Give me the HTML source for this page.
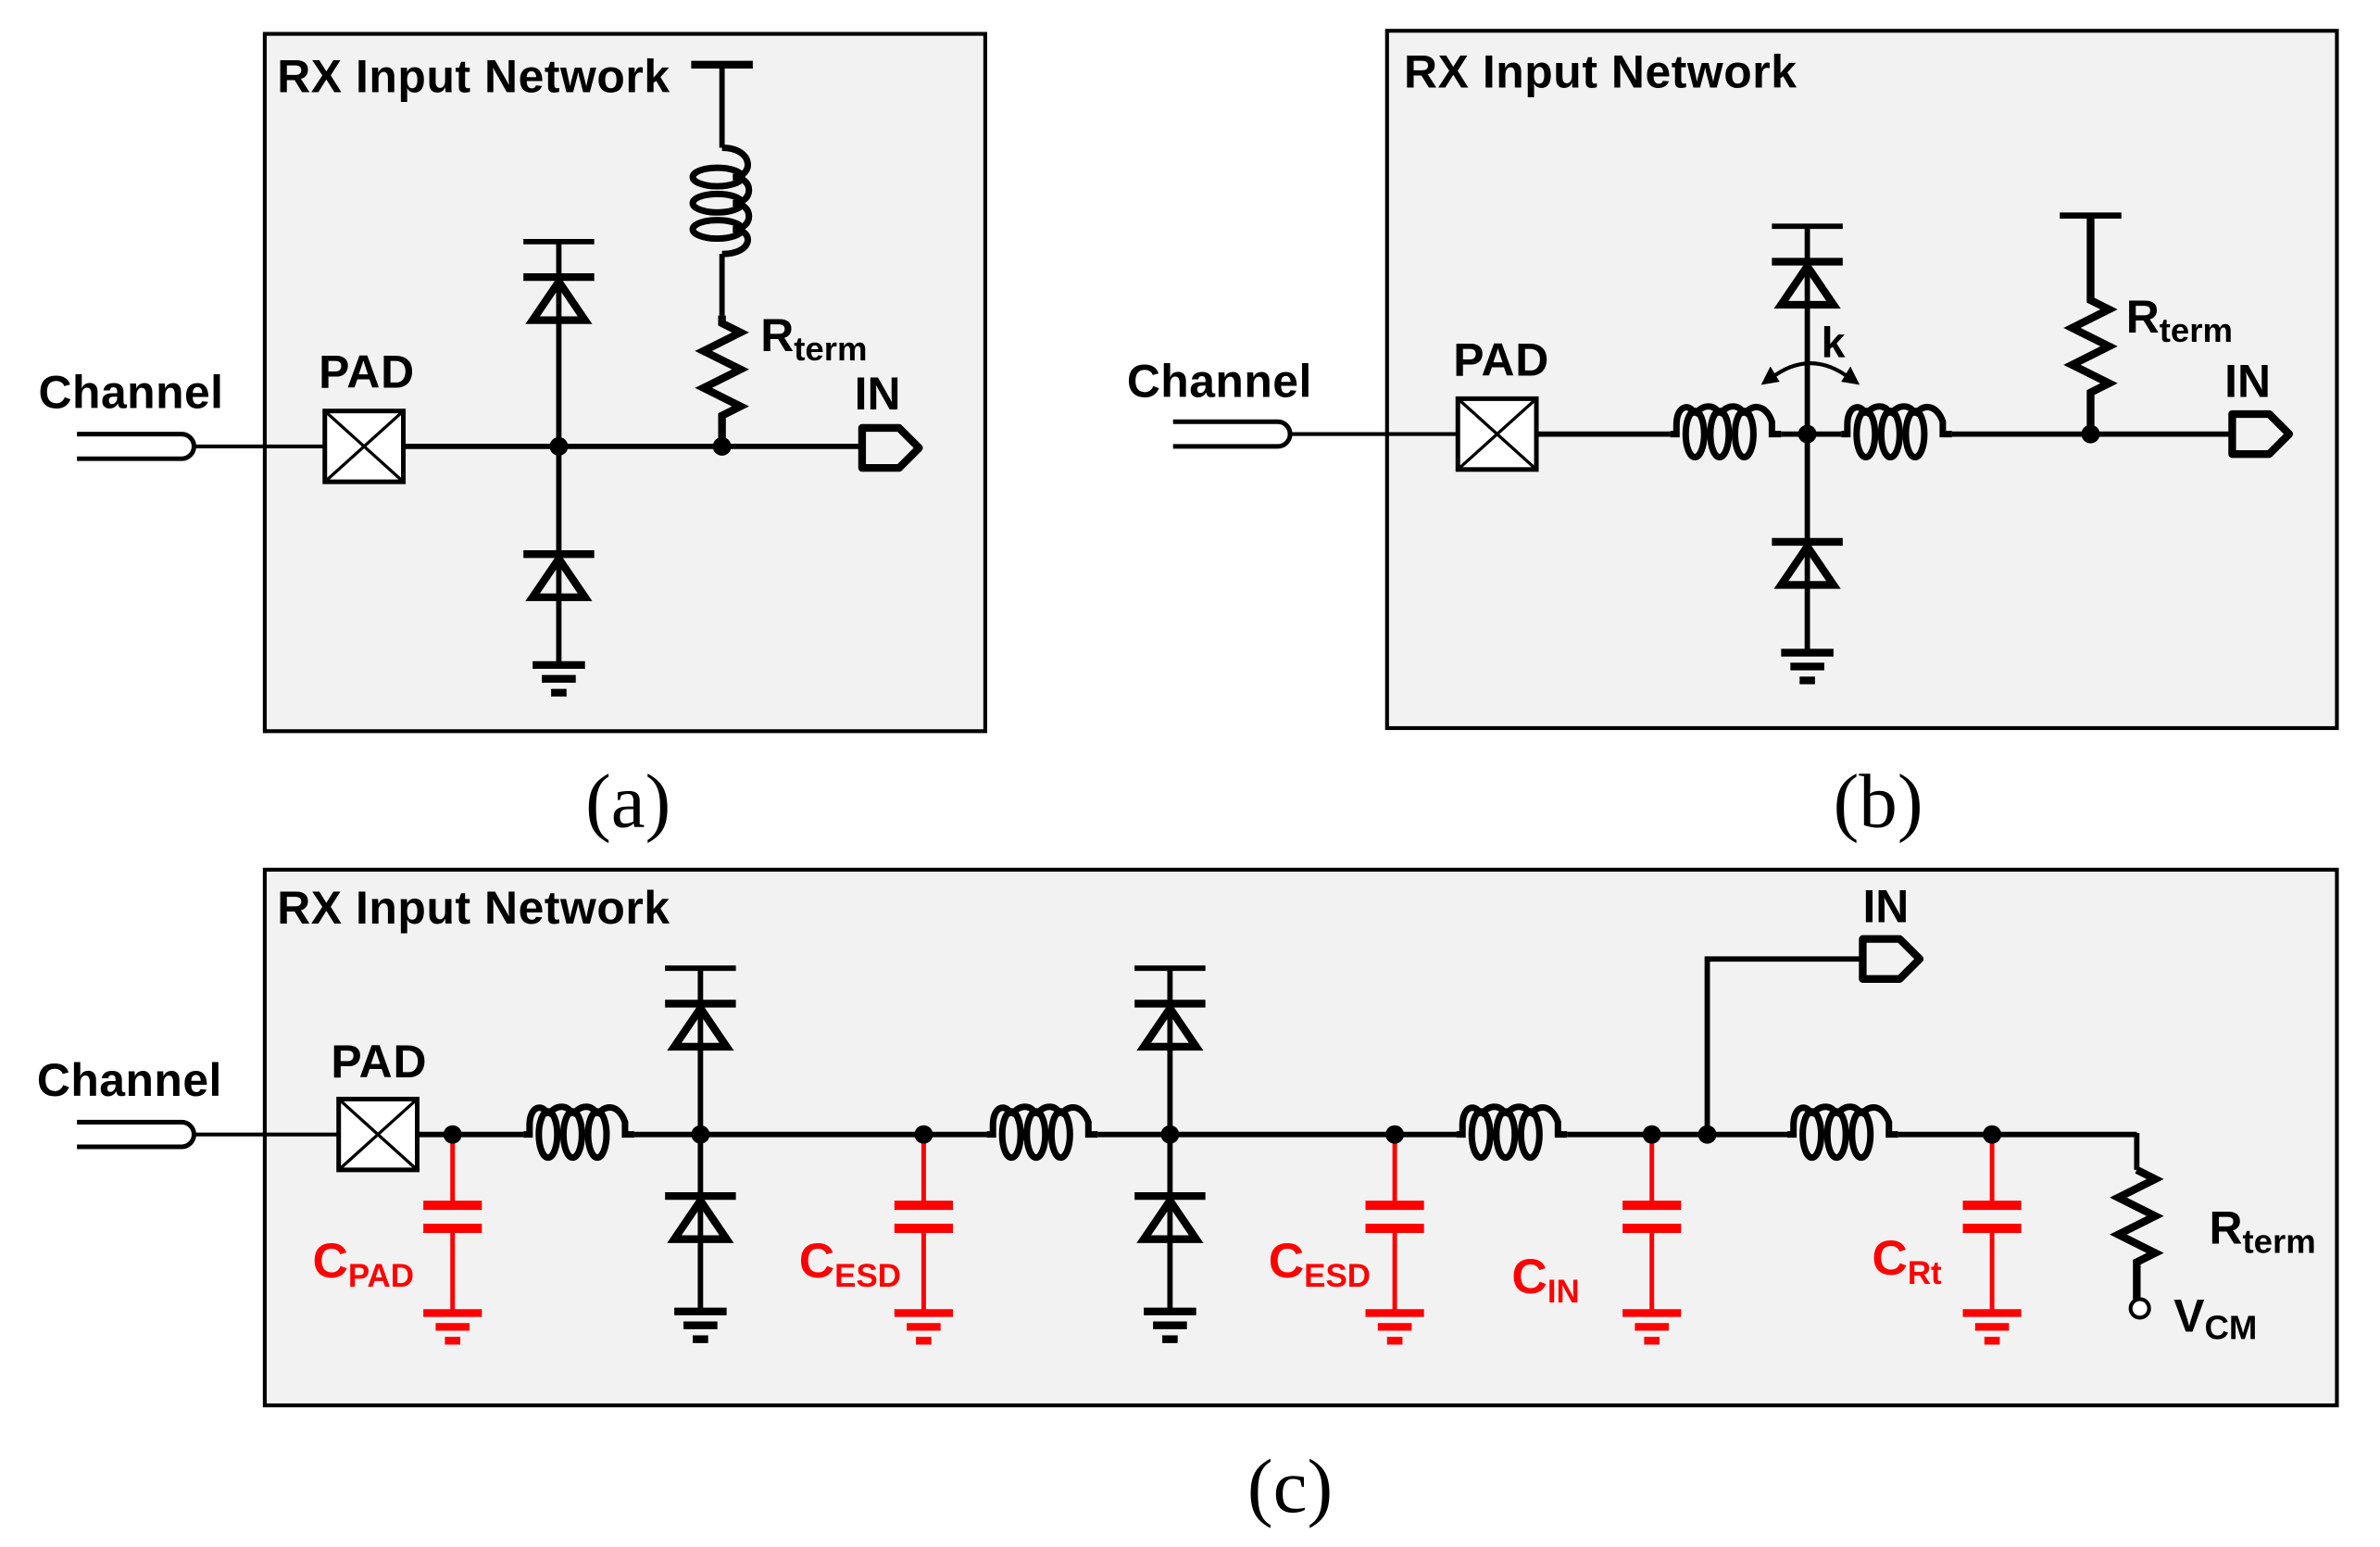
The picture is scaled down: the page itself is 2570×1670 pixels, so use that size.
<!DOCTYPE html>
<html><head><meta charset="utf-8"><style>
html,body{margin:0;padding:0;background:#fff;}
svg{display:block;}
text{font-family:"Liberation Sans Narrow","Liberation Sans",sans-serif;font-weight:bold;}
.cap{font-family:"Liberation Serif",serif;font-weight:normal;font-size:50px;}
</style></head><body>
<svg width="2570" height="1670" viewBox="0 0 1546 1005" preserveAspectRatio="none" xmlns="http://www.w3.org/2000/svg">
<defs>
<g id="indH" fill="none" stroke="#000" stroke-width="4.2">
  <path d="M0,0 L4,0 L4,-6 C4,-20 14,-20 16,-12 M16,-12 C20,-20 30,-20 32,-12 M32,-12 C36,-20 46,-20 48,-12 M48,-12 C52,-20 62,-20 66,-8 L66,0 L72,0"/>
  <ellipse cx="16" cy="0" rx="6" ry="15"/><ellipse cx="32" cy="0" rx="6" ry="15"/><ellipse cx="48" cy="0" rx="6" ry="15"/>
</g>
<g id="diodeUp" fill="none" stroke="#000" stroke-width="5">
  <line x1="-23" y1="0" x2="23" y2="0"/>
  <polygon points="0,3 -17,28 17,28" stroke-linejoin="miter"/>
</g>
<g id="gnd" stroke="#000" stroke-width="5">
  <line x1="-17" y1="0" x2="17" y2="0"/><line x1="-11" y1="9" x2="11" y2="9"/><line x1="-5" y1="18" x2="5" y2="18"/>
</g>
<g id="gndR" stroke="#f00" stroke-width="5">
  <line x1="-19" y1="0" x2="19" y2="0"/><line x1="-11" y1="9" x2="11" y2="9"/><line x1="-5" y1="18" x2="5" y2="18"/>
</g>
<g id="inport" fill="none" stroke="#000" stroke-width="5" stroke-linejoin="round">
  <polygon points="0,-13 24,-13 37,0 24,13 0,13"/>
</g>
<g id="plug" fill="none" stroke="#000" stroke-width="3">
  <path d="M0,-8 L68,-8 A8,8 0 0 1 68,8 L0,8"/>
</g>
<g id="pad">
  <rect x="0" y="0" width="51" height="46" fill="#fff" stroke="#000" stroke-width="3"/>
  <path d="M0,0 L51,46 M51,0 L0,46" stroke="#000" stroke-width="2"/>
</g>
<g id="cap">
  <line x1="0" y1="0" x2="0" y2="46" stroke="#f00" stroke-width="3"/>
  <line x1="-19" y1="46" x2="19" y2="46" stroke="#f00" stroke-width="6"/>
  <line x1="-19" y1="61" x2="19" y2="61" stroke="#f00" stroke-width="6"/>
  <line x1="0" y1="61" x2="0" y2="115" stroke="#f00" stroke-width="3"/>
  <use href="#gndR" y="116"/>
</g>
</defs>

<!-- Panel (a) -->
<rect x="172" y="22" width="468" height="453" fill="#f2f2f2" stroke="#000" stroke-width="2.5"/>
<text x="180" y="60" font-size="30" textLength="255">RX Input Network</text>
<text x="25" y="265" font-size="30" textLength="120">Channel</text>
<use href="#plug" x="50" y="290"/>
<line x1="126" y1="290" x2="211" y2="290" stroke="#000" stroke-width="2.5"/>
<use href="#pad" x="211" y="267"/>
<line x1="262" y1="290" x2="558" y2="290" stroke="#000" stroke-width="3.5"/>
<text x="207" y="252" font-size="30" textLength="62">PAD</text>
<line x1="363" y1="157" x2="363" y2="432" stroke="#000" stroke-width="3.5"/>
<line x1="340" y1="157" x2="386" y2="157" stroke="#000" stroke-width="3.5"/>
<use href="#diodeUp" x="363" y="180"/>
<use href="#diodeUp" x="363" y="360"/>
<use href="#gnd" x="363" y="432"/>
<circle cx="363" cy="290" r="6"/>
<line x1="449" y1="42" x2="489" y2="42" stroke="#000" stroke-width="5"/>
<line x1="469" y1="42" x2="469" y2="96" stroke="#000" stroke-width="3.5"/>
<line x1="469" y1="165" x2="469" y2="205" stroke="#000" stroke-width="3.5"/>
<g fill="none" stroke="#000" stroke-width="4.2">
<path d="M469,96 C490,96 490,115 476,115 M476,115 C490,115 490,132 476,132 M476,132 C490,132 490,149 476,149 M476,149 C490,149 490,165 469,165"/>
<ellipse cx="466" cy="115" rx="16" ry="6"/><ellipse cx="466" cy="132" rx="16" ry="6"/><ellipse cx="466" cy="149" rx="16" ry="6"/>
<path d="M469,205 L469,210 L481,216 L457,228 L481,240 L457,252 L481,264 L469,270 L469,290" stroke-width="5"/>
</g>
<circle cx="469" cy="290" r="6"/>
<text x="494" y="228" font-size="30">R<tspan font-size="22" dy="6">term</tspan></text>
<text x="555" y="266" font-size="30">IN</text>
<use href="#inport" x="560" y="291"/>
<text class="cap" x="408" y="537" text-anchor="middle">(a)</text>

<!-- Panel (b) -->
<rect x="901" y="20" width="617" height="453" fill="#f2f2f2" stroke="#000" stroke-width="2.5"/>
<text x="912" y="57" font-size="30" textLength="255">RX Input Network</text>
<text x="732" y="258" font-size="30" textLength="120">Channel</text>
<use href="#plug" x="762" y="282"/>
<line x1="838" y1="282" x2="947" y2="282" stroke="#000" stroke-width="2.5"/>
<use href="#pad" x="947" y="259"/>
<text x="944" y="244" font-size="30" textLength="62">PAD</text>
<line x1="998" y1="282" x2="1085" y2="282" stroke="#000" stroke-width="3.5"/>
<use href="#indH" x="1085" y="282"/>
<line x1="1157" y1="282" x2="1196" y2="282" stroke="#000" stroke-width="3.5"/>
<use href="#indH" x="1196" y="282"/>
<line x1="1268" y1="282" x2="1448" y2="282" stroke="#000" stroke-width="3.5"/>
<line x1="1174" y1="147" x2="1174" y2="424" stroke="#000" stroke-width="3.5"/>
<line x1="1151" y1="147" x2="1197" y2="147" stroke="#000" stroke-width="3.5"/>
<use href="#diodeUp" x="1174" y="170"/>
<use href="#diodeUp" x="1174" y="352"/>
<use href="#gnd" x="1174" y="424"/>
<circle cx="1174" cy="282" r="6"/>
<text x="1183" y="232" font-size="28">k</text>
<path d="M1150,246 Q1176,226 1202,246" fill="none" stroke="#000" stroke-width="2.5"/>
<path d="M1144,250 L1150,238 L1156,248 Z M1208,250 L1202,238 L1196,248 Z"/>
<line x1="1338" y1="140" x2="1378" y2="140" stroke="#000" stroke-width="4"/>
<path d="M1358,140 L1358,195 L1370,201 L1346,213 L1370,225 L1346,237 L1370,249 L1358,255 L1358,282" fill="none" stroke="#000" stroke-width="5"/>
<circle cx="1358" cy="282" r="6"/>
<text x="1381" y="216" font-size="30">R<tspan font-size="22" dy="6">term</tspan></text>
<text x="1445" y="258" font-size="30">IN</text>
<use href="#inport" x="1450" y="282"/>
<text class="cap" x="1220" y="537" text-anchor="middle">(b)</text>

<!-- Panel (c) -->
<rect x="172" y="565" width="1346" height="348" fill="#f2f2f2" stroke="#000" stroke-width="2.5"/>
<text x="180" y="600" font-size="30" textLength="255">RX Input Network</text>
<text x="24" y="712" font-size="30" textLength="120">Channel</text>
<use href="#plug" x="50" y="737"/>
<line x1="126" y1="737" x2="220" y2="737" stroke="#000" stroke-width="2.5"/>
<use href="#pad" x="220" y="714"/>
<text x="215" y="700" font-size="30" textLength="62">PAD</text>
<g stroke="#000" stroke-width="3.5">
<line x1="271" y1="737" x2="340" y2="737"/>
<line x1="412" y1="737" x2="641" y2="737"/>
<line x1="713" y1="737" x2="946" y2="737"/>
<line x1="1018" y1="737" x2="1161" y2="737"/>
<line x1="1233" y1="737" x2="1388" y2="737"/>
<line x1="1388" y1="736" x2="1388" y2="760"/>
<polyline points="1109,737 1109,623 1208,623" fill="none"/>
</g>
<use href="#indH" x="340" y="737"/>
<use href="#indH" x="641" y="737"/>
<use href="#indH" x="946" y="737"/>
<use href="#indH" x="1161" y="737"/>
<use href="#inport" x="1210" y="623"/>
<text x="1210" y="599" font-size="30">IN</text>
<g stroke="#000" stroke-width="3.5">
<line x1="455" y1="629" x2="455" y2="852"/><line x1="432" y1="629" x2="478" y2="629"/>
<line x1="760" y1="629" x2="760" y2="852"/><line x1="737" y1="629" x2="783" y2="629"/>
</g>
<use href="#diodeUp" x="455" y="652"/><use href="#diodeUp" x="455" y="777"/><use href="#gnd" x="455" y="852"/>
<use href="#diodeUp" x="760" y="652"/><use href="#diodeUp" x="760" y="777"/><use href="#gnd" x="760" y="852"/>
<use href="#cap" x="294" y="737"/>
<use href="#cap" x="600" y="737"/>
<use href="#cap" x="906" y="737"/>
<use href="#cap" x="1073" y="737"/>
<use href="#cap" x="1294" y="737"/>
<g>
<circle cx="294" cy="737" r="6"/><circle cx="455" cy="737" r="6"/><circle cx="600" cy="737" r="6"/>
<circle cx="760" cy="737" r="6"/><circle cx="906" cy="737" r="6"/><circle cx="1073" cy="737" r="6"/>
<circle cx="1109" cy="737" r="6"/><circle cx="1294" cy="737" r="6"/>
</g>
<g fill="#f00">
<text x="203" y="830" font-size="32">C<tspan font-size="21" dy="6">PAD</tspan></text>
<text x="519" y="830" font-size="32">C<tspan font-size="21" dy="6">ESD</tspan></text>
<text x="824" y="830" font-size="32">C<tspan font-size="21" dy="6">ESD</tspan></text>
<text x="982" y="840" font-size="32">C<tspan font-size="21" dy="6">IN</tspan></text>
<text x="1216" y="828" font-size="32">C<tspan font-size="21" dy="6">Rt</tspan></text>
</g>
<path d="M1388,760 L1400,766 L1376,778 L1400,790 L1376,802 L1400,814 L1388,820 L1388,844" fill="none" stroke="#000" stroke-width="5"/>
<circle cx="1390" cy="850" r="6" fill="#fff" stroke="#000" stroke-width="2.5"/>
<text x="1435" y="808" font-size="30">R<tspan font-size="22" dy="6">term</tspan></text>
<text x="1412" y="865" font-size="30">V<tspan font-size="22" dy="5">CM</tspan></text>
<text class="cap" x="838" y="982" text-anchor="middle">(c)</text>
</svg>
</body></html>
